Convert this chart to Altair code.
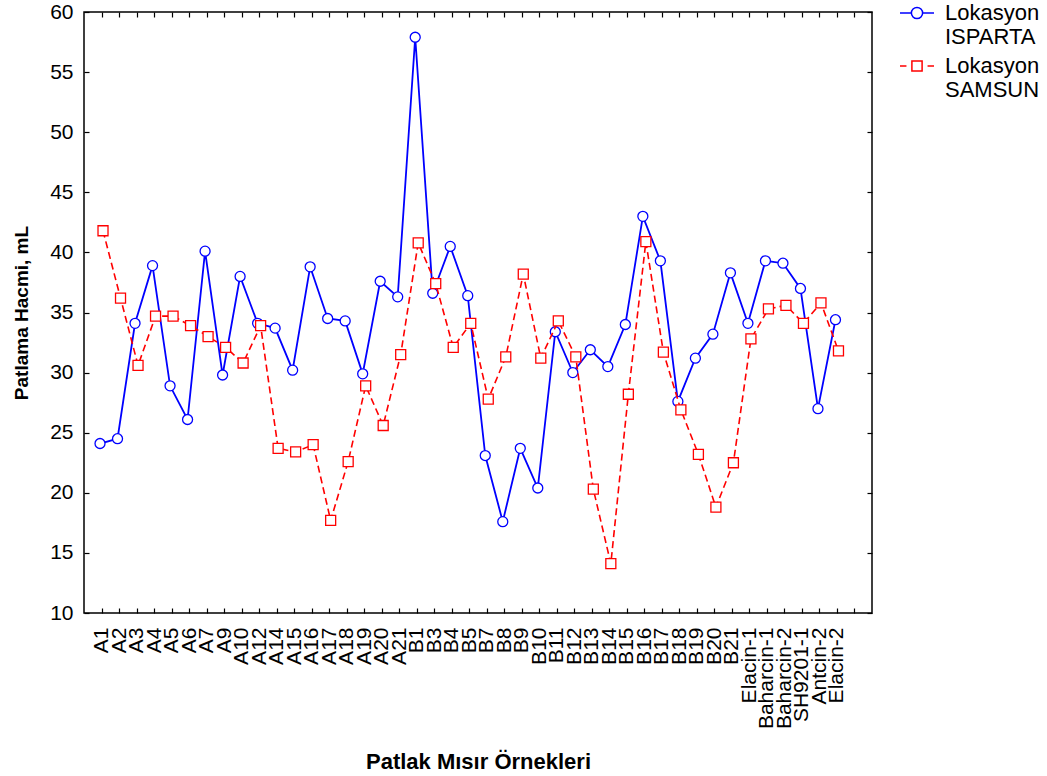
import altair as alt
import pandas as pd

categories = ["A1", "A2", "A3", "A4", "A5", "A6", "A7", "A9", "A10", "A12", "A14", "A15",
              "A16", "A17", "A18", "A19", "A20", "A21", "B1", "B3", "B4", "B5", "B7", "B8",
              "B9", "B10", "B11", "B12", "B13", "B14", "B15", "B16", "B17", "B18", "B19",
              "B20", "B21", "Elacin-1", "Baharcin-1", "Baharcin-2", "SH9201-1", "Antcin-2",
              "Elacin-2"]

isparta = [24.1, 24.5, 34.1, 38.9, 28.9, 26.1, 40.1, 29.8, 38.0, 34.1, 33.7, 30.2,
           38.8, 34.5, 34.3, 29.9, 37.6, 36.3, 57.9, 36.6, 40.5, 36.4, 23.1, 17.6,
           23.7, 20.4, 33.4, 30.0, 31.9, 30.5, 34.0, 43.0, 39.3, 27.6, 31.2,
           33.2, 38.3, 34.1, 39.3, 39.1, 37.0, 27.0, 34.4]

samsun = [41.8, 36.2, 30.6, 34.7, 34.7, 33.9, 33.0, 32.1, 30.8, 33.9, 23.7, 23.4,
          24.0, 17.7, 22.6, 28.9, 25.6, 31.5, 40.8, 37.4, 32.1, 34.1, 27.8, 31.3,
          38.2, 31.2, 34.3, 31.3, 20.3, 14.1, 28.2, 40.9, 31.7, 26.9, 23.2,
          18.8, 22.5, 32.8, 35.3, 35.6, 34.1, 35.8, 31.8]

series_names = ["Lokasyon ISPARTA", "Lokasyon SAMSUN"]
y_ticks = [10, 15, 20, 25, 30, 35, 40, 45, 50, 55, 60]

rows = []
for i, c in enumerate(categories):
    rows.append({"idx": i + 1, "name": c, "value": isparta[i], "series": series_names[0]})
    rows.append({"idx": i + 1, "name": c, "value": samsun[i], "series": series_names[1]})
df = pd.DataFrame(rows)

W, H = 788, 601
FONT = "Liberation Sans"

x_tick_vals = list(range(1, len(categories) + 2))
label_arr = "[" + ",".join("'" + c + "'" for c in categories) + "]"
x_label_expr = label_arr + "[datum.value - 1] || ''"

xscale = alt.Scale(domain=[0, len(categories) + 2], nice=False, zero=False)
yscale = alt.Scale(domain=[10, 60], nice=False, zero=False)

base = alt.Chart(df)

x_main = alt.Axis(values=x_tick_vals, labelExpr=x_label_expr, labelAngle=270, labelFontSize=21,
                  labelFont=FONT, labelColor="black", labelPadding=14, ticks=False, tickSize=0,
                  domain=False, grid=False, labelOverlap=False, labelFlush=False, labelBound=False,
                  title="Patlak Mısır Örnekleri", titleFont=FONT, titleFontSize=22,
                  titleFontWeight="bold", titleColor="black", titleX=W / 2, titleY=155,
                  titleBaseline="alphabetic")
y_main = alt.Axis(values=y_ticks, labelFontSize=21, labelFont=FONT, labelColor="black",
                  labelPadding=11, ticks=False, tickSize=0, domain=False, grid=False,
                  title="Patlama Hacmi, mL", titleFont=FONT, titleFontSize=19,
                  titleFontWeight="bold", titleColor="black", titleX=-57, titleY=H / 2,
                  titleBaseline="alphabetic", titleAngle=270, labelFlush=False)

x_tick_bottom = alt.Axis(orient="top", offset=-H, values=x_tick_vals, labels=False, ticks=True,
                         tickSize=5, tickColor="black", tickWidth=1.2, domain=False, grid=False,
                         title=None)
x_tick_top = alt.Axis(orient="bottom", offset=-H, values=x_tick_vals, labels=False, ticks=True,
                      tickSize=5, tickColor="black", tickWidth=1.2, domain=False, grid=False,
                      title=None)
y_tick_left = alt.Axis(orient="right", offset=-W, values=y_ticks, labels=False, ticks=True,
                       tickSize=5, tickColor="black", tickWidth=1.2, domain=False, grid=False,
                       title=None)
y_tick_right = alt.Axis(orient="left", offset=-W, values=y_ticks, labels=False, ticks=True,
                        tickSize=5, tickColor="black", tickWidth=1.2, domain=False, grid=False,
                        title=None)

isp = base.transform_filter(alt.datum.series == series_names[0])
sam = base.transform_filter(alt.datum.series == series_names[1])

line_i = isp.mark_line(color="#0000FF", strokeWidth=1.8, xOffset=-1.5).encode(
    x=alt.X("idx:Q", scale=xscale, axis=x_main),
    y=alt.Y("value:Q", scale=yscale, axis=y_main),
)
pts_i = isp.mark_point(shape="circle", filled=False, color="#0000FF", fill="white", size=100,
                       strokeWidth=1.3, opacity=1, xOffset=-1.5).encode(
    x=alt.X("idx:Q", scale=xscale, axis=x_tick_bottom),
    y=alt.Y("value:Q", scale=yscale, axis=y_tick_left),
)
line_s = sam.mark_line(color="#FF0000", strokeWidth=1.6, strokeDash=[7, 4], xOffset=1.5).encode(
    x=alt.X("idx:Q", scale=xscale, axis=x_tick_top),
    y=alt.Y("value:Q", scale=yscale, axis=y_tick_right),
)
pts_s = sam.mark_point(shape="square", filled=False, color="#FF0000", fill="white", size=100,
                       strokeWidth=1.3, opacity=1, xOffset=1.5).encode(
    x=alt.X("idx:Q", scale=xscale, axis=None),
    y=alt.Y("value:Q", scale=yscale, axis=None),
)

circle_sym = ("M-1,0H-0.33 M0.33,0H1 M0.33,0 A0.33,0.33 0 1,1 -0.33,0 "
              "A0.33,0.33 0 1,1 0.33,0")
square_sym = ("M-1,0H-0.62 M0.62,0H1 M-0.3,-0.3H0.3V0.3H-0.3Z")

leg = alt.Legend(orient="none", legendX=815, legendY=-17, title=None, padding=0,
                 labelExpr="split(datum.label, ' ')", labelFont=FONT, labelFontSize=22,
                 labelColor="black", labelBaseline="middle", symbolSize=1156,
                 symbolStrokeWidth=1.5, symbolOpacity=1, symbolFillColor="transparent",
                 labelOffset=10, rowPadding=-3, labelLimit=300)

legend_layer = base.mark_point(filled=False, opacity=0, size=1).encode(
    x=alt.X("idx:Q", scale=xscale, axis=None),
    y=alt.Y("value:Q", scale=yscale, axis=None),
    color=alt.Color("series:N", scale=alt.Scale(domain=series_names, range=["#0000FF", "#FF0000"]),
                    legend=leg),
    shape=alt.Shape("series:N", scale=alt.Scale(domain=series_names, range=[circle_sym, square_sym]),
                    legend=leg),
)

chart = alt.layer(line_i, pts_i, line_s, pts_s, legend_layer).resolve_axis(
    x="independent", y="independent"
).properties(
    width=W, height=H,
    autosize=alt.AutoSizeParams(type="none"),
    padding={"left": 84, "top": 12, "right": 1047 - 84 - W, "bottom": 776 - 12 - H},
    background="white",
).configure_view(stroke="black", strokeWidth=1.5)

chart.save("out.html", embed_options={"renderer": "svg", "actions": False})
